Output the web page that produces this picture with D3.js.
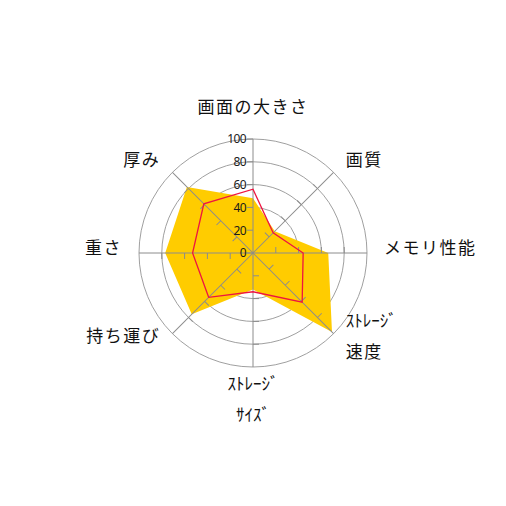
<!DOCTYPE html>
<html>
<head>
<meta charset="utf-8">
<script src="https://cdn.jsdelivr.net/npm/d3@7"></script>
<style>
  html, body { margin: 0; padding: 0; background: #fff; }
  svg { display: block; }
  .ring { fill: none; stroke: #a0a0a0; stroke-width: 1; }
  .spoke, .tick { stroke: #8c8c8c; stroke-width: 1; }
  .area { fill: #ffcc00; stroke: none; }
  .line { fill: none; stroke: #ee1440; stroke-width: 1.3; }
  .tick-label { font-family: "Noto Sans", "Liberation Sans", sans-serif; font-size: 12px; fill: #1a1a1a; letter-spacing: -0.6px; }
  .axis-label { font-family: "Noto Sans CJK JP", sans-serif; font-size: 17px; fill: #111; }
</style>
</head>
<body>
<div id="chart"></div>
<script>
const axisLabels = [
    ['画面の大きさ'],
    ['画質'],
    ['メモリ性能'],
    ['ｽﾄﾚｰｼﾞ', '速度'],
    ['ｽﾄﾚｰｼﾞ', 'ｻｲｽﾞ'],
    ['持ち運び'],
    ['重さ'],
    ['厚み']
];
const goldValues = [48, 27, 66, 98, 32, 76, 77, 82];
const redValues = [56, 25, 44, 61, 34, 55, 53, 61];
const tickValues = [0, 20, 40, 60, 80, 100];

const size = 506;
const cx = 253;
const cy = 253;

const svg = d3.select('#chart').append('svg')
    .attr('width', size)
    .attr('height', size);

const g = svg.append('g')
    .attr('transform', `translate(${cx},${cy})`);

const rScale = d3.scaleLinear()
    .domain([0, 100])
    .range([0, 114]);

const angleScale = d3.scaleLinear()
    .domain([0, axisLabels.length])
    .range([0, 2 * Math.PI]);

const px = (a, r) => r * Math.sin(a);
const py = (a, r) => -r * Math.cos(a);

const radial = d3.lineRadial()
    .angle((d, i) => angleScale(i))
    .radius(d => rScale(d))
    .curve(d3.curveLinearClosed);

// rings sit under the filled series
g.append('g').selectAll('circle').data(tickValues.filter(d => d > 0))
  .enter().append('circle')
    .attr('class', 'ring')
    .attr('r', d => rScale(d));

g.append('path').datum(goldValues)
    .attr('class', 'area')
    .attr('d', radial);

// spokes and ticks
const spoke = g.append('g').selectAll('.spoke-g').data(axisLabels)
  .enter().append('g')
    .attr('transform', (d, i) => `rotate(${angleScale(i) * 180 / Math.PI})`);

spoke.append('line')
    .attr('class', 'spoke')
    .attr('x1', 0).attr('y1', 0)
    .attr('x2', 0).attr('y2', -rScale(100));

spoke.each(function (d, i) {
    const ticks = i === 0 ? tickValues : tickValues.filter(v => v > 0 && v < 100);
    d3.select(this).selectAll('.tick').data(ticks)
      .enter().append('line')
        .attr('class', 'tick')
        .attr('x1', -6).attr('x2', 0)
        .attr('y1', v => -rScale(v)).attr('y2', v => -rScale(v));
});

g.append('path').datum(redValues)
    .attr('class', 'line')
    .attr('d', radial);

g.append('g').selectAll('.tick-label').data(tickValues)
  .enter().append('text')
    .attr('class', 'tick-label')
    .attr('x', -7)
    .attr('y', d => -rScale(d))
    .attr('dy', '0.36em')
    .style('text-anchor', 'end')
    .text(d => d);

// axis labels
const labelR = 131;
const lineGap = 31;

function labelAnchor(a) {
    const s = Math.sin(a);
    if (s > 0.1) return 'start';
    if (s < -0.1) return 'end';
    return 'middle';
}

function labelCenterShift(a) {
    const c = Math.cos(a);
    if (c > 0.9) return -15;
    if (c > 0.1) return 0;
    if (c > -0.1) return -4.5;
    if (c > -0.9) return -9.5;
    return 16;
}

// half-width katakana lines are set tight, full-width ones a little open
const isHalfWidth = s => /[\uff61-\uff9f]/.test(s);

const label = g.append('g').selectAll('.axis-label').data(axisLabels)
  .enter().append('text')
    .attr('class', 'axis-label')
    .style('text-anchor', (d, i) => labelAnchor(angleScale(i)))
    .attr('transform', (d, i) => {
        const a = angleScale(i);
        const x = px(a, labelR);
        const y = py(a, labelR) + labelCenterShift(a) - (d.length - 1) * lineGap / 2;
        return `translate(${x},${y})`;
    });

label.selectAll('tspan').data(d => d)
  .enter().append('tspan')
    .attr('x', 0)
    .attr('y', (d, j) => j * lineGap)
    .attr('dy', '0.35em')
    .style('letter-spacing', d => isHalfWidth(d) ? null : '1.5px')
    .text(d => d);
</script>
</body>
</html>
